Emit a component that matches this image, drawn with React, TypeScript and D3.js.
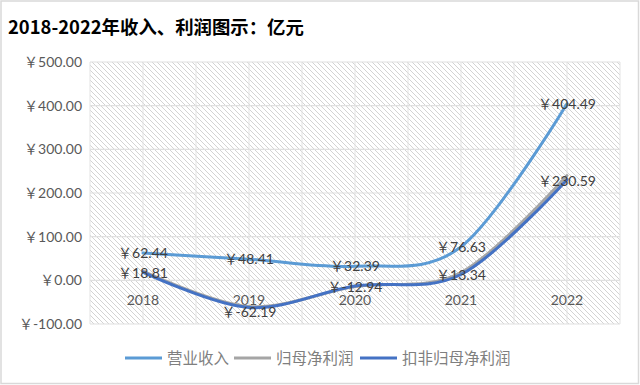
import React from "react";
import * as d3 from "d3";

const years = ["2018", "2019", "2020", "2021", "2022"];
const revenue = [62.44, 48.41, 32.39, 76.63, 404.49];
const netProfit = [21, -60, -14, 18, 240];
const netProfitDeducted = [18.81, -62.19, -12.94, 13.34, 230.59];
const yTicks = [-100, 0, 100, 200, 300, 400, 500];
const seriesNames = ["营业收入", "归母净利润", "扣非归母净利润"];
const colors = ["#5B9BD5", "#A5A5A5", "#4472C4"];

const W = 640, H = 385;
const left = 90, right = 620, top = 62, bottom = 324;

export default function App() {
  const x = d3.scaleBand<string>().domain(years).range([left, right]);
  const y = d3.scaleLinear().domain([-100, 500]).range([bottom, top]);
  const cx = (d: string) => (x(d) as number) + x.bandwidth() / 2;
  const line = d3
    .line<number>()
    .x((_, i) => cx(years[i]))
    .y((v) => y(v))
    .curve(d3.curveCardinal.tension(0));
  const fmt = (v: number) => "￥" + v.toFixed(2);
  const numFont = "Lato, 'Noto Sans CJK SC', sans-serif";
  const vGrid: number[] = [];
  for (let i = 0; i <= years.length * 2; i++) vGrid.push(left + (i * x.bandwidth()) / 2);
  const series = [revenue, netProfit, netProfitDeducted];
  const legendX = [125, 234, 360];
  return (
    <svg width={W} height={H} style={{ position: "absolute", left: 0, top: 0 }}>
      <defs>
        <pattern id="hatch" patternUnits="userSpaceOnUse" width={5} height={5}>
          <path d="M-1,-1 L6,6 M-1,4 L1,6 M4,-1 L6,1" stroke="#D3D3D3" strokeWidth={1} />
        </pattern>
      </defs>
      <rect x={0} y={0} width={W} height={H} fill="#fff" />
      <rect x={1} y={1} width={W - 2.5} height={H - 2.5} fill="none" stroke="#D9D9D9" strokeWidth={1.5} />
      <text x={8} y={34} fontFamily="'Noto Sans CJK SC', sans-serif" fontWeight="bold" fontSize={18.4} fill="#000">
        2018-2022年收入、利润图示：亿元
      </text>
      <rect x={left} y={top} width={right - left} height={bottom - top} fill="url(#hatch)" />
      {vGrid.map((gx, i) => (
        <line key={"v" + i} x1={gx} x2={gx} y1={top} y2={bottom} stroke="#E3E3E3" strokeWidth={1} />
      ))}
      {yTicks.map((t) => (
        <line key={"h" + t} x1={left} x2={right} y1={y(t)} y2={y(t)} stroke="#E0E0E0" strokeWidth={1.2} />
      ))}
      {yTicks.map((t) => (
        <text key={"yl" + t} x={82} y={y(t)} dy="0.35em" textAnchor="end" fontFamily={numFont} fontSize={14} fill="#595959">
          {fmt(t)}
        </text>
      ))}
      {years.map((yr) => (
        <text key={"xl" + yr} x={cx(yr)} y={y(0) + 20} dy="0.35em" textAnchor="middle" fontFamily={numFont} fontSize={14} fill="#595959">
          {yr}
        </text>
      ))}
      {series.map((s, i) => (
        <path key={"s" + i} d={line(s) || ""} fill="none" stroke={colors[i]} strokeWidth={3} strokeLinecap="round" />
      ))}
      {revenue.map((v, i) => (
        <text key={"r" + i} x={cx(years[i])} y={y(v)} dy="0.35em" textAnchor="middle" fontFamily={numFont} fontSize={14} fill="#404040">
          {fmt(v)}
        </text>
      ))}
      {netProfitDeducted.map((v, i) => (
        <text key={"p" + i} x={cx(years[i])} y={y(v) + (v < -50 ? 5 : 1)} dy="0.35em" textAnchor="middle" fontFamily={numFont} fontSize={14} fill="#404040">
          {fmt(v)}
        </text>
      ))}
      {seriesNames.map((n, i) => (
        <g key={"lg" + i}>
          <line x1={legendX[i]} x2={legendX[i] + 37} y1={358} y2={358} stroke={colors[i]} strokeWidth={3} />
          <text x={legendX[i] + 42} y={358} dy="0.36em" fontFamily="'Noto Sans CJK SC', sans-serif" fontSize={15.5} fill="#7F7F7F">
            {n}
          </text>
        </g>
      ))}
    </svg>
  );
}
